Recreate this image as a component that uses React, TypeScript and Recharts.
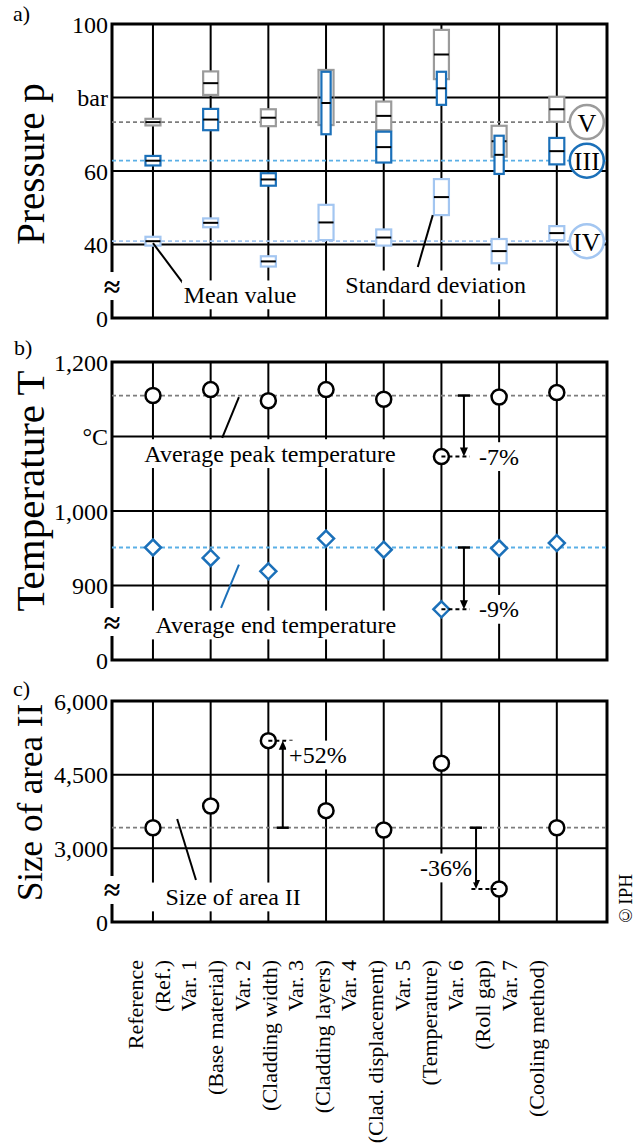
import React from 'react';
import { CartesianGrid, ComposedChart, ReferenceArea, ReferenceDot, ReferenceLine, Scatter, XAxis, YAxis } from 'recharts';

const categories = ['Reference', 'Var. 1', 'Var. 2', 'Var. 3', 'Var. 4', 'Var. 5', 'Var. 6', 'Var. 7'];
const categoryNotes = ['(Ref.)', '(Base material)', '(Cladding width)', '(Cladding layers)', '(Clad. displacement)', '(Temperature)', '(Roll gap)', '(Cooling method)'];

// a) pressure p in bar: mean value and standard deviation per area
const pressureVMean = [73.3, 83.9, 74.5, 80.0, 75.0, 91.7, 68.1, 76.8];
const pressureVSd = [0.9, 3.2, 2.3, 7.5, 3.9, 6.7, 4.2, 3.4];
const pressureIIIMean = [62.8, 74.0, 57.7, 78.5, 66.5, 82.5, 64.4, 65.4];
const pressureIIISd = [1.3, 2.9, 1.7, 8.5, 4.2, 4.5, 5.2, 3.6];
const pressureIVMean = [40.9, 45.9, 35.4, 46.0, 41.9, 52.9, 38.2, 43.1];
const pressureIVSd = [1.2, 1.2, 1.4, 4.8, 2.2, 4.9, 3.3, 1.9];
const pressureTicks = [20, 40, 60, 80, 100];
const pressureTickLabels = ['0', '40', '60', 'bar', '100'];

// b) temperature T in °C
const peakTemperature = [1155, 1163, 1148, 1163, 1150, 1073, 1153, 1159];
const endTemperature = [951, 937, 919, 963, 948, 868, 950, 957];
const temperatureTicks = [800, 900, 1000, 1100, 1200];
const temperatureTickLabels = ['0', '900', '1,000', '°C', '1,200'];

// c) size of area II
const areaSize = [3420, 3862, 5192, 3767, 3373, 4732, 2172, 3420];
const areaTicks = [1500, 3000, 4500, 6000];
const areaTickLabels = ['0', '3,000', '4,500', '6,000'];

const FONT = '"Liberation Serif", "Times New Roman", Times, serif';
const GRAY = '#9b9b9b';
const BLUE = '#1b70b9';
const LIGHT = '#a3c6f1';
const X_DOMAIN: [number, number] = [-0.71, 7.87];
const xTicks = categories.map((_, i) => i);
const BOX = 0.13;
const NARROW = 0.08;

const overlaps = (m1: number, s1: number, m2: number, s2: number) => Math.abs(m1 - m2) < s1 + s2;

const axisTitle = (text: string, size: number, shift: number) => (props: any) => {
  const vb = props.viewBox || {};
  const cx = vb.x - 22;
  const cy = vb.y + vb.height / 2 + shift;
  return (
    <text x={cx} y={cy} transform={`rotate(-90 ${cx} ${cy})`} textAnchor="middle" dominantBaseline="central" fontSize={size} fontFamily={FONT} fill="#000">
      {text}
    </text>
  );
};

const Note = ({ cx, cy, text, anchor = 'middle' }: any) => {
  const size = 24;
  const w = text.length * size * 0.46 + 6;
  const h = size * 1.2;
  const left = anchor === 'start' ? cx - 3 : anchor === 'end' ? cx - w + 3 : cx - w / 2;
  return (
    <g>
      <rect x={left} y={cy - h / 2} width={w} height={h} fill="#fff" />
      <text x={cx} y={cy} textAnchor={anchor} dominantBaseline="central" fontSize={size} fontFamily={FONT} fill="#000">
        {text}
      </text>
    </g>
  );
};

const BreakMark = ({ cx, cy }: any) => (
  <g>
    <rect x={cx - 7} y={cy - 14} width={14} height={28} fill="#fff" />
    <text x={cx} y={cy} textAnchor="middle" dominantBaseline="central" fontSize={30} fontWeight="bold" fontFamily={FONT} fill="#000">
      ≈
    </text>
  </g>
);

const Circled = ({ cx, cy, text, color }: any) => (
  <g>
    <circle cx={cx} cy={cy} r={17} fill="#fff" stroke={color} strokeWidth={2.5} />
    <text x={cx} y={cy + 1} textAnchor="middle" dominantBaseline="central" fontSize={26} fontFamily={FONT} fill="#000">
      {text}
    </text>
  </g>
);

const StdBox = (p: any) => (
  <g>
    <rect x={p.x} y={p.y} width={p.width} height={p.height} fill="#fff" stroke={p.stroke} strokeWidth={2.2} />
    <line x1={p.x} x2={p.x + p.width} y1={p.y + p.height / 2} y2={p.y + p.height / 2} stroke="#000" strokeWidth={2} />
  </g>
);

const Arrow = (p: any) => {
  const { x1, y1, y2 } = p;
  const dir = y2 > y1 ? 1 : -1;
  return (
    <g>
      <line x1={x1 - 6} x2={x1 + 6} y1={y1} y2={y1} stroke="#000" strokeWidth={2.5} />
      <line x1={x1} x2={x1} y1={y1} y2={y2 - dir * 6} stroke="#000" strokeWidth={2} />
      <path d={`M${x1 - 4},${y2 - dir * 9} L${x1 + 4},${y2 - dir * 9} L${x1},${y2} Z`} fill="#000" />
    </g>
  );
};

const RingMarker = (p: any) => <circle cx={p.cx} cy={p.cy} r={7.5} fill="#fff" stroke="#000" strokeWidth={2.5} />;
const DiamondMarker = (p: any) => (
  <path d={`M${p.cx},${p.cy - 8} L${p.cx + 8},${p.cy} L${p.cx},${p.cy + 8} L${p.cx - 8},${p.cy} Z`} fill="#fff" stroke={BLUE} strokeWidth={2.5} />
);

const CategoryTick = (props: any) => {
  const { x, y, payload } = props;
  const i = payload.value;
  return (
    <g transform={`translate(${x},${y + 8})`}>
      <text transform="rotate(-90)" textAnchor="end" fontSize={22} fontFamily={FONT} fill="#000">
        <tspan x={0} dy={-5}>{categories[i]}</tspan>
        <tspan x={0} dy={27}>{categoryNotes[i]}</tspan>
      </text>
    </g>
  );
};

const yAxisProps = {
  type: 'number' as const,
  width: 60,
  axisLine: false,
  tickLine: false,
  tickSize: 0,
  tickMargin: 4,
  interval: 0 as const,
  allowDataOverflow: true,
  tick: { fill: '#000', fontSize: 24, fontFamily: FONT },
};

const xAxisProps = {
  xAxisId: 0,
  dataKey: 'x',
  type: 'number' as const,
  domain: X_DOMAIN,
  ticks: xTicks,
  interval: 0 as const,
  allowDataOverflow: true,
  hide: true,
};

export default function App() {
  const rowsA = categories.map((_, i) => ({ x: i }));
  const rowsB = categories.map((_, i) => ({ x: i, peak: peakTemperature[i], end: endTemperature[i] }));
  const rowsC = categories.map((_, i) => ({ x: i, area: areaSize[i] }));

  const pressureSeries = [
    { mean: pressureVMean, sd: pressureVSd, color: GRAY },
    { mean: pressureIIIMean, sd: pressureIIISd, color: BLUE },
    { mean: pressureIVMean, sd: pressureIVSd, color: LIGHT },
  ];

  const frame = (lo: number, hi: number) => (
    <ReferenceArea x1={X_DOMAIN[0]} x2={X_DOMAIN[1]} y1={lo} y2={hi} fill="none" stroke="#000" strokeWidth={3} ifOverflow="visible" zIndex={50} />
  );

  const arrowB = 5.39;
  const arrowC2 = 2.25;
  const arrowC6 = 5.6;

  return (
    <div style={{ position: 'absolute', left: 0, top: 0, width: 643, height: 1146, background: '#fff', fontFamily: FONT }}>
      <div style={{ position: 'absolute', left: 13, top: 3, fontSize: 22, lineHeight: '22px' }}>a)</div>
      <div style={{ position: 'absolute', left: 14, top: 337, fontSize: 22, lineHeight: '22px' }}>b)</div>
      <div style={{ position: 'absolute', left: 13, top: 678, fontSize: 22, lineHeight: '22px' }}>c)</div>
      <div style={{ position: 'absolute', left: 615, top: 874, fontSize: 19, writingMode: 'vertical-rl', transform: 'rotate(180deg)' }}>©IPH</div>

      {/* a) Pressure */}
      <div style={{ position: 'absolute', left: 0, top: 0 }}>
        <ComposedChart width={643} height={340} data={rowsA} margin={{ top: 24, right: 36, bottom: 22, left: 52 }}>
          <CartesianGrid stroke="#000" strokeWidth={2} />
          <XAxis {...xAxisProps} />
          <YAxis
            {...yAxisProps}
            domain={[20, 100]}
            ticks={pressureTicks}
            tickFormatter={(v: number) => pressureTickLabels[pressureTicks.indexOf(v)]}
            label={axisTitle('Pressure p', 39, -7)}
          />
          {frame(20, 100)}
          {pressureSeries.map((s, k) => (
            <ReferenceLine
              key={`ref-${k}`}
              y={s.mean[0]}
              stroke={k === 0 ? '#7d7d7d' : k === 1 ? '#5aafe6' : LIGHT}
              strokeWidth={1.8}
              strokeDasharray="4 3"
              zIndex={150}
            />
          ))}
          {pressureSeries.map((s, k) =>
            s.mean.map((m, i) => {
              const narrow = k === 1 && overlaps(m, s.sd[i], pressureVMean[i], pressureVSd[i]);
              const hw = narrow ? NARROW : BOX;
              return (
                <ReferenceArea
                  key={`box-${k}-${i}`}
                  x1={i - hw}
                  x2={i + hw}
                  y1={m - s.sd[i]}
                  y2={m + s.sd[i]}
                  stroke={s.color}
                  shape={StdBox}
                  ifOverflow="visible"
                  zIndex={300}
                />
              );
            })
          )}
          <ReferenceLine segment={[{ x: 0, y: 40.4 }, { x: 0.52, y: 29.5 }]} stroke="#000" strokeWidth={2} zIndex={700} />
          <ReferenceLine segment={[{ x: 4.85, y: 48 }, { x: 4.59, y: 33.9 }]} stroke="#000" strokeWidth={2} zIndex={700} />
          <ReferenceDot x={1.51} y={26.3} r={0} shape={(p: any) => <Note cx={p.cx} cy={p.cy} text="Mean value" />} ifOverflow="visible" zIndex={800} />
          <ReferenceDot x={4.9} y={29} r={0} shape={(p: any) => <Note cx={p.cx} cy={p.cy} text="Standard deviation" />} ifOverflow="visible" zIndex={800} />
          <ReferenceDot x={7.52} y={pressureVMean[0]} r={17} shape={(p: any) => <Circled cx={p.cx} cy={p.cy} text="V" color={GRAY} />} ifOverflow="visible" zIndex={800} />
          <ReferenceDot x={7.52} y={pressureIIIMean[0]} r={17} shape={(p: any) => <Circled cx={p.cx} cy={p.cy} text="III" color={BLUE} />} ifOverflow="visible" zIndex={800} />
          <ReferenceDot x={7.52} y={pressureIVMean[0]} r={17} shape={(p: any) => <Circled cx={p.cx} cy={p.cy} text="IV" color={LIGHT} />} ifOverflow="visible" zIndex={800} />
          <ReferenceDot x={X_DOMAIN[0]} y={28.7} r={0} shape={BreakMark} ifOverflow="visible" zIndex={900} />
        </ComposedChart>
      </div>

      {/* b) Temperature */}
      <div style={{ position: 'absolute', left: 0, top: 330 }}>
        <ComposedChart width={643} height={346} data={rowsB} margin={{ top: 32, right: 36, bottom: 16, left: 52 }}>
          <CartesianGrid stroke="#000" strokeWidth={2} />
          <XAxis {...xAxisProps} />
          <YAxis
            {...yAxisProps}
            domain={[800, 1200]}
            ticks={temperatureTicks}
            tickFormatter={(v: number) => temperatureTickLabels[temperatureTicks.indexOf(v)]}
            label={axisTitle('Temperature T', 41, -20)}
          />
          {frame(800, 1200)}
          <ReferenceLine y={peakTemperature[0]} stroke="#7d7d7d" strokeWidth={1.8} strokeDasharray="4 3" zIndex={150} />
          <ReferenceLine y={endTemperature[0]} stroke="#5aafe6" strokeWidth={1.8} strokeDasharray="4 3" zIndex={150} />
          <Scatter dataKey="peak" shape={RingMarker} isAnimationActive={false} />
          <Scatter dataKey="end" shape={DiamondMarker} isAnimationActive={false} />
          <ReferenceLine segment={[{ x: 1.49, y: 1153 }, { x: 1.2, y: 1098 }]} stroke="#000" strokeWidth={2} zIndex={700} />
          <ReferenceLine segment={[{ x: 1.49, y: 928 }, { x: 1.18, y: 870 }]} stroke={BLUE} strokeWidth={2} zIndex={700} />
          <ReferenceLine segment={[{ x: arrowB, y: peakTemperature[0] }, { x: arrowB, y: peakTemperature[5] }]} shape={Arrow} zIndex={700} />
          <ReferenceLine segment={[{ x: arrowB, y: endTemperature[0] }, { x: arrowB, y: endTemperature[5] }]} shape={Arrow} zIndex={700} />
          <ReferenceLine segment={[{ x: 5, y: peakTemperature[5] }, { x: 5.49, y: peakTemperature[5] }]} stroke="#000" strokeWidth={2} strokeDasharray="4 3" zIndex={700} />
          <ReferenceLine segment={[{ x: 5, y: endTemperature[5] }, { x: 5.49, y: endTemperature[5] }]} stroke="#000" strokeWidth={2} strokeDasharray="4 3" zIndex={700} />
          <ReferenceDot x={2.03} y={1077} r={0} shape={(p: any) => <Note cx={p.cx} cy={p.cy} text="Average peak temperature" />} ifOverflow="visible" zIndex={800} />
          <ReferenceDot x={2.13} y={847} r={0} shape={(p: any) => <Note cx={p.cx} cy={p.cy} text="Average end temperature" />} ifOverflow="visible" zIndex={800} />
          <ReferenceDot x={5.65} y={peakTemperature[5]} r={0} shape={(p: any) => <Note cx={p.cx} cy={p.cy} text="-7%" anchor="start" />} ifOverflow="visible" zIndex={800} />
          <ReferenceDot x={5.65} y={endTemperature[5]} r={0} shape={(p: any) => <Note cx={p.cx} cy={p.cy} text="-9%" anchor="start" />} ifOverflow="visible" zIndex={800} />
          <ReferenceDot x={X_DOMAIN[0]} y={851} r={0} shape={BreakMark} ifOverflow="visible" zIndex={900} />
        </ComposedChart>
      </div>

      {/* c) Size of area II */}
      <div style={{ position: 'absolute', left: 0, top: 670 }}>
        <ComposedChart width={643} height={476} data={rowsC} margin={{ top: 31, right: 36, bottom: 0, left: 52 }}>
          <CartesianGrid stroke="#000" strokeWidth={2} />
          <XAxis {...xAxisProps} />
          <XAxis
            xAxisId="names"
            dataKey="x"
            type="number"
            domain={[-0.674, 8.6]}
            ticks={xTicks}
            interval={0}
            allowDataOverflow
            height={224}
            axisLine={false}
            tickLine={false}
            tickSize={0}
            tickMargin={0}
            tick={CategoryTick}
          />
          <YAxis
            {...yAxisProps}
            domain={[1500, 6000]}
            ticks={areaTicks}
            tickFormatter={(v: number) => areaTickLabels[areaTicks.indexOf(v)]}
            label={axisTitle('Size of area II', 35, -9)}
          />
          {frame(1500, 6000)}
          <ReferenceLine y={areaSize[0]} stroke="#7d7d7d" strokeWidth={1.8} strokeDasharray="4 3" zIndex={150} />
          <Scatter dataKey="area" shape={RingMarker} isAnimationActive={false} />
          <ReferenceLine segment={[{ x: 0.42, y: 3598 }, { x: 0.745, y: 2356 }]} stroke="#000" strokeWidth={2} zIndex={700} />
          <ReferenceLine segment={[{ x: arrowC2, y: areaSize[0] }, { x: arrowC2, y: areaSize[2] }]} shape={Arrow} zIndex={700} />
          <ReferenceLine segment={[{ x: arrowC6, y: areaSize[0] }, { x: arrowC6, y: areaSize[6] }]} shape={Arrow} zIndex={700} />
          <ReferenceLine segment={[{ x: 2, y: areaSize[2] }, { x: 2.42, y: areaSize[2] }]} stroke="#000" strokeWidth={2} strokeDasharray="4 3" zIndex={700} />
          <ReferenceLine segment={[{ x: 5.52, y: areaSize[6] }, { x: 6, y: areaSize[6] }]} stroke="#000" strokeWidth={2} strokeDasharray="4 3" zIndex={700} />
          <ReferenceDot x={1.39} y={2010} r={0} shape={(p: any) => <Note cx={p.cx} cy={p.cy} text="Size of area II" />} ifOverflow="visible" zIndex={800} />
          <ReferenceDot x={2.36} y={4900} r={0} shape={(p: any) => <Note cx={p.cx} cy={p.cy} text="+52%" anchor="start" />} ifOverflow="visible" zIndex={800} />
          <ReferenceDot x={5.53} y={2600} r={0} shape={(p: any) => <Note cx={p.cx} cy={p.cy} text="-36%" anchor="end" />} ifOverflow="visible" zIndex={800} />
          <ReferenceDot x={X_DOMAIN[0]} y={2152} r={0} shape={BreakMark} ifOverflow="visible" zIndex={900} />
        </ComposedChart>
      </div>
    </div>
  );
}
